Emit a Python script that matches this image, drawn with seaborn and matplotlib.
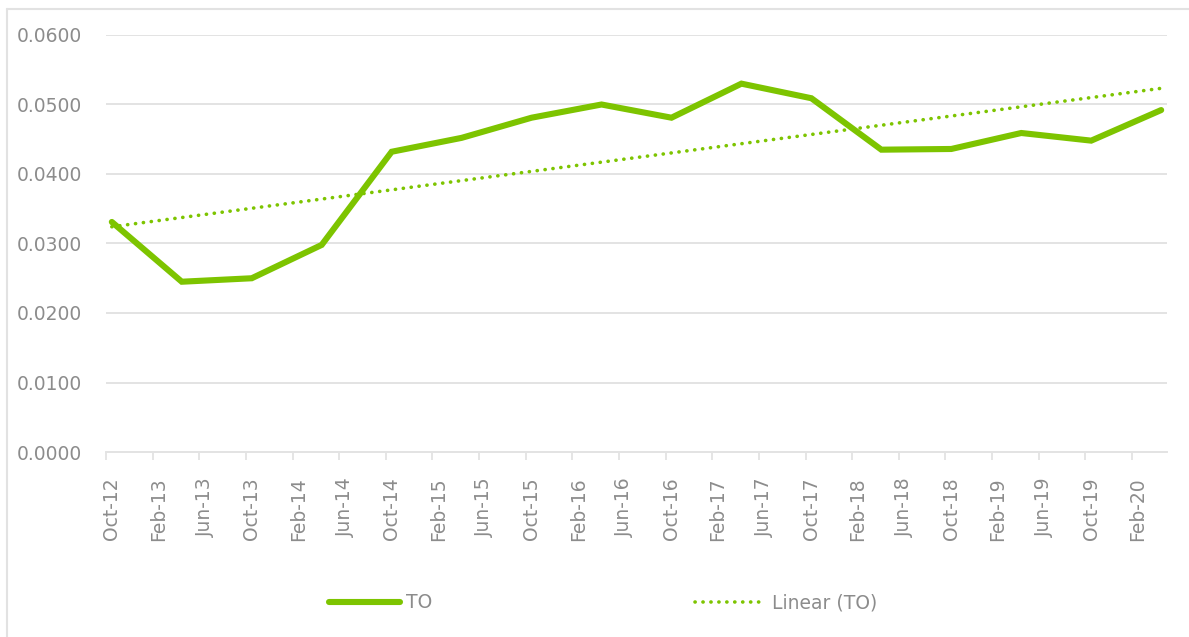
import numpy as np
import pandas as pd
import matplotlib
matplotlib.use("Agg")
import matplotlib.pyplot as plt
import seaborn as sns
from matplotlib.lines import Line2D

# ---- data ----
periods = ["2012-10", "2013-04", "2013-10", "2014-04", "2014-10", "2015-04",
           "2015-10", "2016-04", "2016-10", "2017-04", "2017-10", "2018-04",
           "2018-10", "2019-04", "2019-10", "2020-04"]
to_values = [0.0331, 0.0245, 0.0250, 0.0298, 0.0432, 0.0452, 0.0481, 0.0500,
             0.0481, 0.0530, 0.0509, 0.0435, 0.0436, 0.0459, 0.0448, 0.0492]
tick_labels = ["Oct-12", "Feb-13", "Jun-13", "Oct-13", "Feb-14", "Jun-14",
               "Oct-14", "Feb-15", "Jun-15", "Oct-15", "Feb-16", "Jun-16",
               "Oct-16", "Feb-17", "Jun-17", "Oct-17", "Feb-18", "Jun-18",
               "Oct-18", "Feb-19", "Jun-19", "Oct-19", "Feb-20"]
y_ticks = [0.0, 0.01, 0.02, 0.03, 0.04, 0.05, 0.06]

GREEN = "#7DC400"
GRAY_TXT = "#8C8C8C"
GRID = "#E3E3E3"

# month index since Oct-2012; points sit in the middle of their month
p = pd.PeriodIndex(periods, freq="M")
start = pd.Period("2012-10", freq="M")
month_idx = np.array([(q - start).n for q in p])
df = pd.DataFrame({"x": month_idx + 0.5, "TO": to_values})

coef = np.polyfit(df["x"], df["TO"], 1)
df["trend"] = np.polyval(coef, df["x"])

sns.set_theme(style="white")
plt.rcParams["font.family"] = ["DejaVu Sans"]

fig = plt.figure(figsize=(11.89, 6.37), dpi=100)
ax = fig.add_axes([106 / 1189, 1 - 452 / 637, (1167 - 106) / 1189, (452 - 35) / 637])

sns.lineplot(data=df, x="x", y="TO", ax=ax, color=GREEN, linewidth=4.4,
             label="TO", solid_capstyle="round", solid_joinstyle="miter")
sns.lineplot(data=df, x="x", y="trend", ax=ax, color=GREEN, linewidth=2.6,
             label="Linear (TO)", linestyle=(0, (0.05, 2.15)),
             dash_capstyle="round")

ax.set_xlim(0, 91)
ax.set_ylim(0, 0.06)
ax.set_yticks(y_ticks)
ax.set_yticklabels([f"{v:.4f}" for v in y_ticks])
ax.yaxis.grid(True, color=GRID, linewidth=1.4)
ax.xaxis.grid(False)

tick_months = np.arange(0, 4 * len(tick_labels), 4)
ax.set_xticks(tick_months + 0.5)
ax.set_xticklabels(tick_labels, rotation=90, va="top", ha="center")
ax.set_xticks(tick_months, minor=True)
ax.tick_params(axis="x", which="major", length=0, pad=18, labelsize=13.5,
               labelcolor=GRAY_TXT)
ax.tick_params(axis="x", which="minor", length=6, width=1.3, color=GRID,
               bottom=True)
ax.tick_params(axis="y", length=0, pad=17, labelsize=13.5, labelcolor=GRAY_TXT)

for s in ["top", "right", "left"]:
    ax.spines[s].set_visible(False)
ax.spines["bottom"].set_color(GRID)
ax.spines["bottom"].set_linewidth(1.4)
ax.set_xlabel("")
ax.set_ylabel("")

ax.get_legend().remove()
h, l = ax.get_legend_handles_labels()
fig.legend(h, l, loc="center", bbox_to_anchor=(603 / 1189, 1 - 603 / 637),
           ncol=2, frameon=False, fontsize=13.5, labelcolor=GRAY_TXT,
           handlelength=3.8, handletextpad=0.3, columnspacing=14)

# chart-area border (cropped on right and bottom)
bx, by = 6.5 / 1189, 1 - 8.5 / 637
fig.add_artist(Line2D([bx, 1.0], [by, by], transform=fig.transFigure,
                      color="#E2E2E2", linewidth=1.5))
fig.add_artist(Line2D([bx, bx], [0.0, by], transform=fig.transFigure,
                      color="#E2E2E2", linewidth=1.5))

fig.savefig("out.png", dpi=100)
